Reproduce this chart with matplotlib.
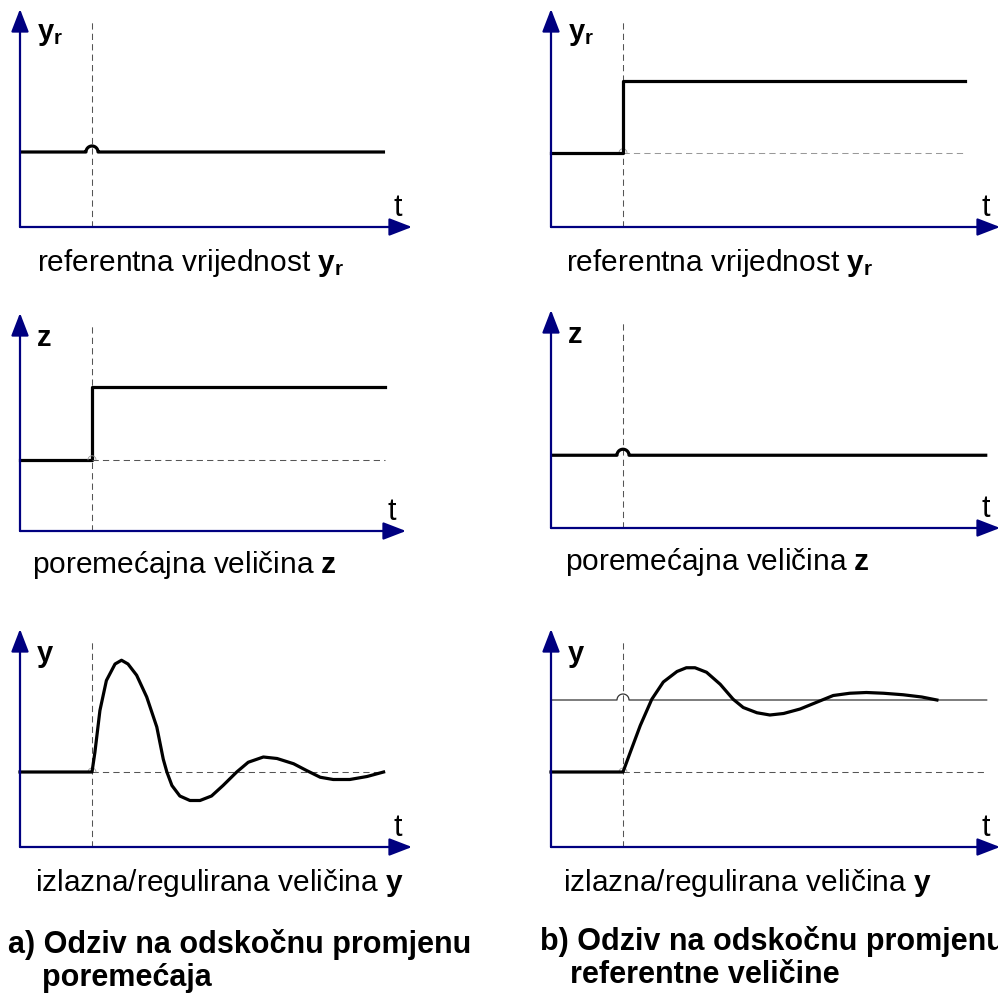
import numpy as np
import matplotlib
matplotlib.use('Agg')
import matplotlib.pyplot as plt

plt.rcParams['font.family'] = ['Liberation Sans', 'DejaVu Sans']
plt.rcParams['mathtext.fontset'] = 'custom'
plt.rcParams['mathtext.rm'] = 'Liberation Sans'
plt.rcParams['mathtext.bf'] = 'Liberation Sans:bold'

# vremenska os: skok u t = 1, vrijednosti u relativnim jedinicama
t_step = 1.0

# a) skok poremećaja
yr_a_t = [0.0, 5.07]
yr_a = [1.0, 1.0]
z_a_t = [0.0, 1.0, 1.0, 5.07]
z_a = [0.95, 0.95, 1.92, 1.92]
y_a_t = [0.0, 1.0, 1.04, 1.11, 1.20, 1.32, 1.41, 1.50, 1.62, 1.76, 1.90, 1.99,
         2.04, 2.11, 2.22, 2.36, 2.50, 2.66, 2.82, 3.01, 3.17, 3.38, 3.57, 3.80,
         3.98, 4.17, 4.35, 4.58, 4.82, 5.05]
y_a = [1.0, 1.0, 1.26, 1.82, 2.22, 2.44, 2.49, 2.44, 2.29, 2.0, 1.6, 1.17,
       1.0, 0.82, 0.68, 0.62, 0.62, 0.68, 0.82, 1.0, 1.13, 1.20, 1.18, 1.11,
       1.02, 0.93, 0.90, 0.90, 0.94, 1.0]

# b) skok referentne veličine
yr_b_t = [0.0, 1.0, 1.0, 5.75]
yr_b = [0.99, 0.99, 1.95, 1.95]
z_b_t = [0.0, 6.06]
z_b = [0.97, 0.97]
y_b_t = [0.0, 1.0, 1.10, 1.24, 1.40, 1.56, 1.75, 1.88, 2.00, 2.16, 2.35, 2.53,
         2.67, 2.86, 3.04, 3.23, 3.46, 3.69, 3.92, 4.15, 4.38, 4.62, 4.89,
         5.15, 5.36]
y_b = [1.0, 1.0, 1.26, 1.62, 1.97, 2.20, 2.34, 2.39, 2.39, 2.33, 2.17, 1.97,
       1.86, 1.79, 1.76, 1.78, 1.84, 1.93, 2.02, 2.05, 2.06, 2.05, 2.03,
       2.0, 1.96]
y_b_ref = 1.96

W, H = 998, 995
TU, VU = 72.0, 75.0   # px po jedinici vremena / vrijednosti
NAVY = '#000080'
GRAY = '#555555'
HOP = 6.0             # polumjer "mostića" u px

fig = plt.figure(figsize=(W / 100, H / 100), dpi=100)


def panel(x0, y_axis, width, height=218):
    ax = fig.add_axes([x0 / W, (H - y_axis) / H, width / W, height / H])
    ax.set_xlim(0, width / TU)
    ax.set_ylim(0, height / VU)
    ax.axis('off')
    arr = dict(arrowstyle='-|>,head_length=0.7,head_width=0.27', color=NAVY,
               lw=1.6, mutation_scale=20, shrinkA=0, shrinkB=0)
    ax.annotate('', xy=(1, 0), xytext=(0, 0), xycoords='axes fraction',
                arrowprops=arr, annotation_clip=False)
    ax.annotate('', xy=(0, 1), xytext=(0, 0), xycoords='axes fraction',
                arrowprops=arr, annotation_clip=False)
    ax.plot([t_step, t_step], [0, 2.73], color=GRAY, lw=0.75,
            ls=(0, (6, 4)), clip_on=False)
    return ax


def hop_line(ax, t0, t1, v, color, lw):
    # vodoravna linija s polukružnim mostićem preko isprekidane okomice
    rt, rv = HOP / TU, HOP / VU
    th = np.linspace(np.pi, 0, 20)
    xs = np.concatenate([[t0], t_step + rt * np.cos(th), [t1]])
    ys = np.concatenate([[v], v + rv * np.sin(th), [v]])
    ax.plot(xs, ys, color=color, lw=lw, clip_on=False, solid_capstyle='butt')


def corner_hop(ax, v):
    rt, rv = 4.0 / TU, 4.0 / VU
    th = np.linspace(np.pi, 0, 12)
    ax.plot(t_step + rt * np.cos(th), v + rv * np.sin(th), color='#999999',
            lw=0.6, clip_on=False)


def labels(ax, sym, caption, cap_dx, cap_dy=35):
    ax.annotate(sym, xy=(0, 1), xycoords='axes fraction', xytext=(17, -24),
                textcoords='offset pixels', fontsize=21, fontweight='bold',
                va='center', ha='left', annotation_clip=False)
    ax.annotate('t', xy=(1, 0), xycoords='axes fraction', xytext=(-14, 20),
                textcoords='offset pixels', fontsize=22, va='center',
                ha='center', annotation_clip=False)
    ax.annotate(caption, xy=(0, 0), xycoords='axes fraction',
                xytext=(cap_dx, -cap_dy), textcoords='offset pixels',
                fontsize=21.5, va='center', ha='left', annotation_clip=False)


CURVE = dict(color='black', lw=2.3, clip_on=False, solid_joinstyle='round')

# ---- a) lijevi stupac
ax = panel(20, 228, 392)
hop_line(ax, yr_a_t[0], yr_a_t[-1], yr_a[0], 'black', 2.3)
labels(ax, r'$\mathbf{y_r}$', r'referentna vrijednost $\mathbf{y_r}$', 17)

ax = panel(20, 532, 386)
ax.plot(z_a_t, z_a, **CURVE)
ax.plot([t_step, z_a_t[-1]], [z_a[0]] * 2, color=GRAY, lw=0.75, ls=(0, (6, 4)))
corner_hop(ax, z_a[0])
labels(ax, 'z', r'poremećajna veličina $\mathbf{z}$', 12, 33)

ax = panel(20, 848, 392)
ax.plot([t_step, y_a_t[-1]], [y_a[0]] * 2, color=GRAY, lw=0.75, ls=(0, (6, 4)))
corner_hop(ax, y_a[0])
ax.plot(y_a_t, y_a, **CURVE)
labels(ax, 'y', r'izlazna/regulirana veličina $\mathbf{y}$', 15)

# ---- b) desni stupac
ax = panel(551, 228, 449)
ax.plot([t_step, yr_b_t[-1]], [yr_b[0]] * 2, color='#999999', lw=0.75,
        ls=(0, (6, 4)))
corner_hop(ax, yr_b[0])
ax.plot(yr_b_t, yr_b, **CURVE)
labels(ax, r'$\mathbf{y_r}$', r'referentna vrijednost $\mathbf{y_r}$', 15)

ax = panel(551, 529, 449)
hop_line(ax, z_b_t[0], z_b_t[-1], z_b[0], 'black', 2.3)
labels(ax, 'z', r'poremećajna veličina $\mathbf{z}$', 14, 33)

ax = panel(551, 848, 449)
hop_line(ax, 0.0, 6.06, y_b_ref, '#333333', 0.9)
ax.plot([t_step, 6.06], [y_b[0]] * 2, color=GRAY, lw=0.75, ls=(0, (6, 4)))
corner_hop(ax, y_b[0])
ax.plot(y_b_t, y_b, **CURVE)
labels(ax, 'y', r'izlazna/regulirana veličina $\mathbf{y}$', 12)

# ---- naslovi
fig.text(8 / W, 1 - 945 / H, 'a) Odziv na odskočnu promjenu', fontsize=22,
         fontweight='bold', va='center', ha='left')
fig.text(42 / W, 1 - 978 / H, 'poremećaja', fontsize=22,
         fontweight='bold', va='center', ha='left')
fig.text(540 / W, 1 - 942 / H, 'b) Odziv na odskočnu promjenu', fontsize=22,
         fontweight='bold', va='center', ha='left')
fig.text(570 / W, 1 - 975 / H, 'referentne veličine', fontsize=22,
         fontweight='bold', va='center', ha='left')

fig.savefig('out.png', dpi=100, facecolor='white')
